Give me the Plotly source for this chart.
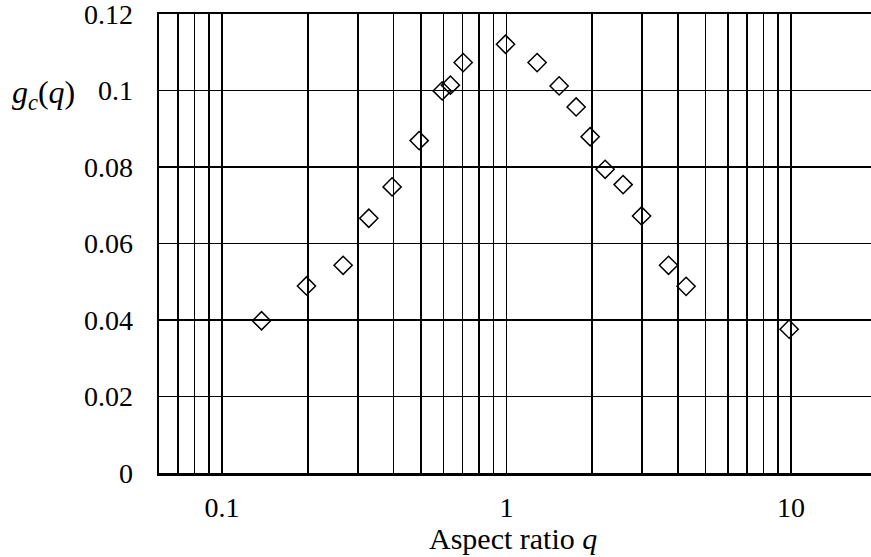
import math
import plotly.graph_objects as go

# Data
q_values = [0.1376, 0.198, 0.2664, 0.328, 0.396, 0.493, 0.594, 0.635, 0.704, 0.992,
            1.281, 1.531, 1.757, 1.968, 2.222, 2.570, 2.984, 3.712, 4.280, 9.856]
gc_values = [0.0398, 0.0489, 0.0543, 0.0666, 0.0748, 0.0869, 0.0999, 0.1014, 0.1073, 0.1121,
             0.1073, 0.1012, 0.0957, 0.0879, 0.0794, 0.0754, 0.0672, 0.0543, 0.0488, 0.0376]

x_major_ticks = [0.1, 1, 10]
x_major_text = ["0.1", "1", "10"]
x_minor_ticks = [0.07, 0.08, 0.09, 0.2, 0.3, 0.4, 0.5, 0.6, 0.7, 0.8, 0.9,
                 2, 3, 4, 5, 6, 7, 8, 9]
y_ticks = [0, 0.02, 0.04, 0.06, 0.08, 0.1, 0.12]
y_text = ["0", "0.02", "0.04", "0.06", "0.08", "0.1", "0.12"]

FONT = "Liberation Serif"
FS = 28

fig = go.Figure()
fig.add_trace(go.Scatter(
    x=q_values, y=gc_values, mode="markers",
    marker=dict(symbol="diamond-open", size=14, color="black",
                line=dict(color="black", width=1.5)),
    showlegend=False, cliponaxis=False, hoverinfo="skip",
))

fig.update_layout(
    width=871, height=557,
    margin=dict(l=159, r=0, t=14, b=84, autoexpand=False),
    paper_bgcolor="white", plot_bgcolor="white",
    font=dict(family=FONT, size=FS, color="black"),
    xaxis=dict(
        type="log",
        range=[math.log10(0.06), math.log10(19.12)],
        tickmode="array", tickvals=x_major_ticks, ticktext=x_major_text,
        ticks="inside", ticklen=16, tickwidth=1.6, tickcolor="black",
        showgrid=True, gridcolor="black", gridwidth=1.6,
        minor=dict(tickmode="array", tickvals=x_minor_ticks, ticks="inside",
                   ticklen=8, tickwidth=1.6, tickcolor="black",
                   showgrid=True, gridcolor="black", gridwidth=1.6),
        showline=True, linecolor="black", linewidth=2.5, mirror="ticks",
        zeroline=False, ticklabelstandoff=8, automargin=False,
        ticklabeloverflow="allow",
        tickfont=dict(family=FONT, size=FS, color="black"),
    ),
    yaxis=dict(
        range=[0, 0.12],
        tickmode="array", tickvals=y_ticks, ticktext=y_text,
        ticks="inside", ticklen=16, tickwidth=1.6, tickcolor="black",
        showgrid=True, gridcolor="black", gridwidth=1.6,
        showline=True, linecolor="black", linewidth=2.5, mirror="ticks",
        zeroline=False, ticklabelstandoff=18, automargin=False,
        ticklabeloverflow="allow",
        tickfont=dict(family=FONT, size=FS, color="black"),
    ),
    annotations=[
        dict(text="Aspect ratio <i>q</i>", xref="paper", yref="paper",
             x=0.497, y=-0.142, xanchor="center", yanchor="middle",
             showarrow=False, font=dict(family=FONT, size=30, color="black")),
        dict(text="<i>g</i><sub><i>c</i></sub>(<i>q</i>)", xref="paper", yref="paper",
             x=-0.162, y=0.8256, xanchor="center", yanchor="middle",
             showarrow=False, font=dict(family=FONT, size=32, color="black")),
    ],
)

fig.write_html("out.html",
               config={"displayModeBar": False, "staticPlot": True},
               post_script="document.body.style.margin='0';document.body.style.overflow='hidden';")
